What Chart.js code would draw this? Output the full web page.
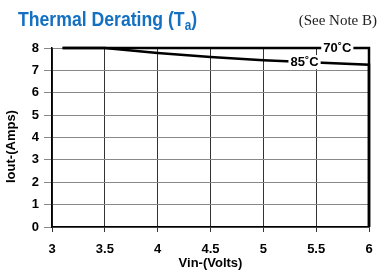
<!DOCTYPE html>
<html>
<head>
<meta charset="utf-8">
<script src="https://cdn.jsdelivr.net/npm/chart.js@4.4.0/dist/chart.umd.min.js"></script>
<style>
  html, body { margin: 0; padding: 0; background: #fff; }
  #wrap { position: relative; width: 388px; height: 274px; overflow: hidden; }
  #titulo { position: absolute; left: 18px; top: 7px; color: #1470c0; font-family: Arial, "Liberation Sans", sans-serif; font-weight: bold; font-size: 21px; white-space: nowrap; transform: scaleX(0.84); transform-origin: 0 0; }
  #titulo sub { font-size: 14px; vertical-align: -4px; }
  #nota { position: absolute; right: 11px; top: 12px; font-family: "Liberation Serif", "DejaVu Serif", serif; font-size: 15px; color: #222; }
  canvas { position: absolute; left: 0; top: 0; }
</style>
</head>
<body>
<div id="wrap">
  <canvas id="grafico-derating" width="388" height="274"></canvas>
  <div id="titulo">Thermal Derating (T<sub>a</sub>)</div>
  <div id="nota">(See Note B)</div>
</div>
<script>
// dados
var vin85 = [3.1, 3.5, 4, 4.5, 5, 5.5, 6, 6];
var iout85 = [8, 8, 7.78, 7.6, 7.45, 7.35, 7.25, 0];
var vin70 = [3.1, 6, 6];
var iout70 = [8, 8, 0];
var rotulos = ["70˚C", "85˚C"];
var rotuloX = [5.7, 5.39];
var rotuloY = [8, 7.37];

function pontos(xs, ys) {
    return xs.map(function (x, i) { return { x: x, y: ys[i] }; });
}

var pluginRotulos = {
    id: 'rotulos',
    afterDatasetsDraw: function (chart) {
        var ctx = chart.ctx;
        var sx = chart.scales.x, sy = chart.scales.y;
        ctx.save();
        ctx.font = 'bold 13px Arial, "Liberation Sans", sans-serif';
        ctx.textAlign = 'center';
        ctx.textBaseline = 'middle';
        rotulos.forEach(function (t, i) {
            var px = sx.getPixelForValue(rotuloX[i]);
            var py = sy.getPixelForValue(rotuloY[i]);
            var w = ctx.measureText(t).width;
            ctx.fillStyle = '#fff';
            ctx.fillRect(px - w / 2 - 2, py - 7, w + 4, 14);
            ctx.fillStyle = '#000';
            ctx.fillText(t, px, py);
        });
        ctx.restore();
    }
};

var fonteEixo = { family: 'Arial, "Liberation Sans"', weight: 'bold', size: 13 };

var referencia = document.querySelector("#grafico-derating").getContext("2d");

var grafico = new Chart(referencia, {
    type: 'scatter',
    data: {
        datasets: [{
                label: "70C",
                data: pontos(vin70, iout70),
                showLine: true,
                borderColor: "#000",
                borderWidth: 2.5,
                pointRadius: 0,
                clip: 6,
                fill: false
            },
            {
                label: "85C",
                data: pontos(vin85, iout85),
                showLine: true,
                borderColor: "#000",
                borderWidth: 2.5,
                pointRadius: 0,
                clip: 6,
                fill: false
            }
        ]
    },
    options: {
        responsive: false,
        animation: false,
        layout: { padding: { top: 48, right: 19, left: 0, bottom: 0 } },
        plugins: {
            legend: { display: false },
            tooltip: { enabled: false }
        },
        scales: {
            x: {
                type: 'linear',
                min: 3,
                max: 6,
                afterFit: function (s) { s.height = 47; },
                ticks: { stepSize: 0.5, color: '#000', padding: 10, font: fonteEixo,
                         callback: function (v) { return String(v); } },
                grid: { color: '#333', tickLength: 5 },
                border: { color: '#000', width: 1.5 },
                title: { display: true, text: 'Vin-(Volts)', color: '#000', padding: { top: 0, bottom: 3 }, font: fonteEixo }
            },
            y: {
                min: 0,
                max: 8,
                afterFit: function (s) { s.width = 52; },
                ticks: { stepSize: 1, color: '#000', padding: 5, font: fonteEixo },
                grid: { color: '#888', tickLength: 8 },
                border: { color: '#000', width: 1.5 },
                title: { display: true, text: 'Iout-(Amps)     ', color: '#000', padding: { top: 4, bottom: 0 }, font: fonteEixo }
            }
        }
    },
    plugins: [pluginRotulos]
});
</script>
</body>
</html>
